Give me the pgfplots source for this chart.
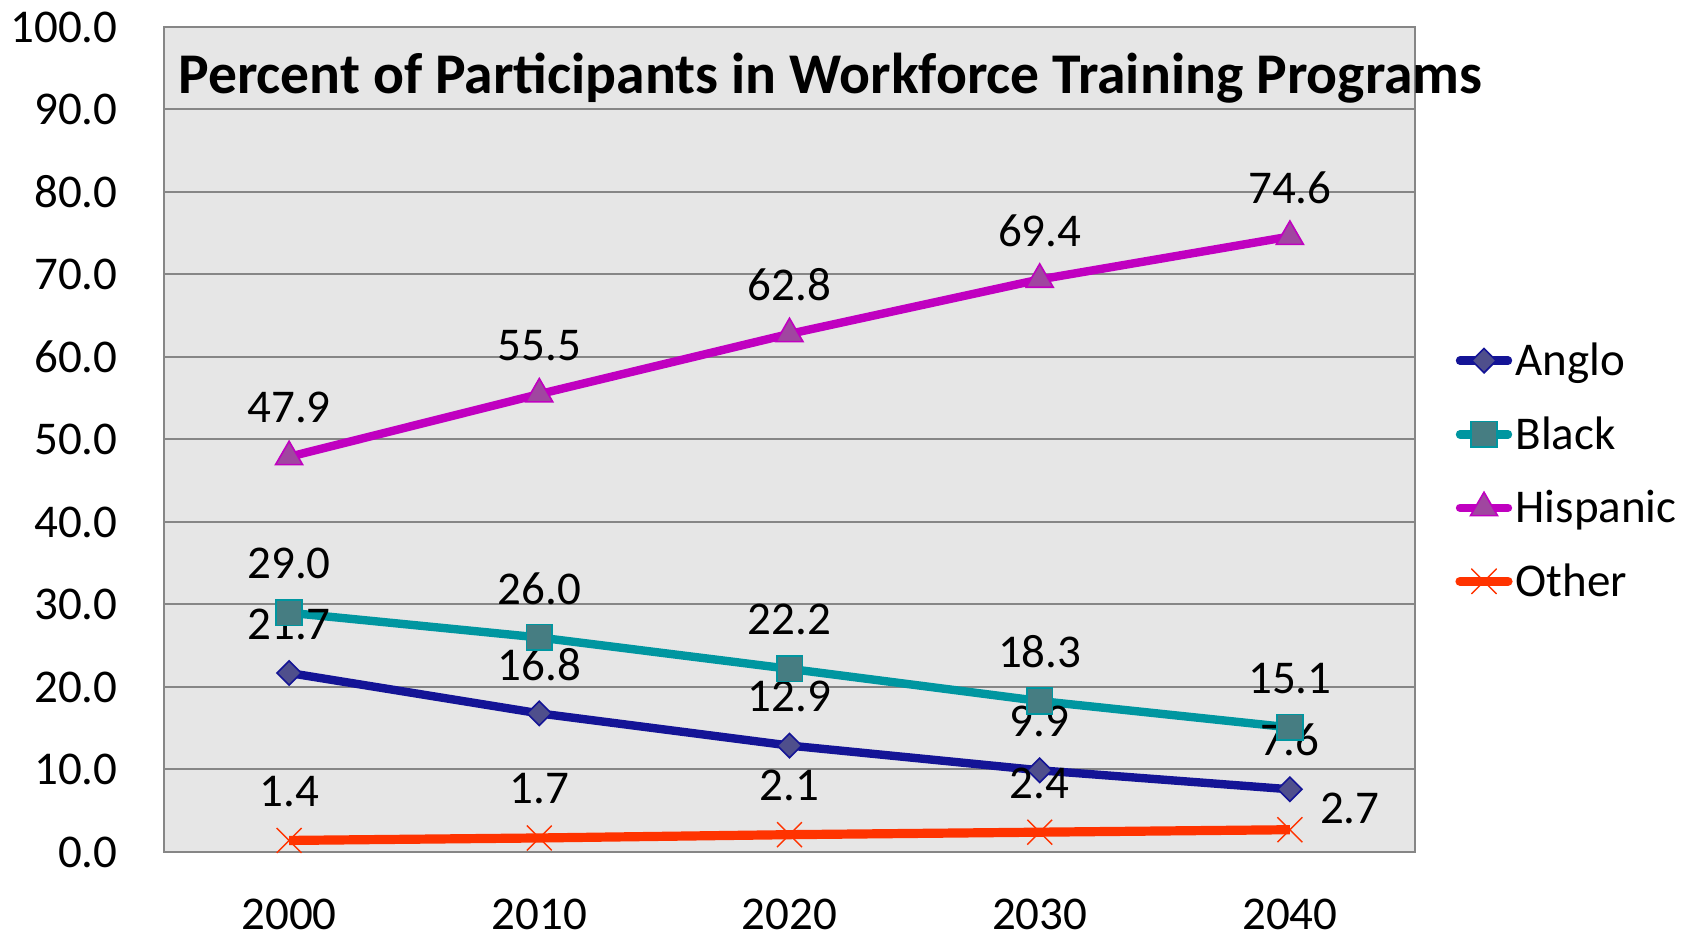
\documentclass[border=0pt]{standalone}
\usepackage{fontspec}
\setmainfont{Carlito}
\usepackage{pgfplots}
\pgfplotsset{compat=1.18}
\definecolor{bggray}{HTML}{E6E6E6}
\definecolor{gridgray}{HTML}{868686}
\definecolor{anglo}{HTML}{141496}
\definecolor{anglofill}{HTML}{4F4F8C}
\definecolor{blackc}{HTML}{0096A0}
\definecolor{blackfill}{HTML}{467D82}
\definecolor{hisp}{HTML}{C000C0}
\definecolor{hispfill}{HTML}{A046A0}
\definecolor{other}{HTML}{FF3300}
\newcommand{\bigf}{\fontsize{23.5}{28}\selectfont}
\begin{document}
\begin{tikzpicture}
\useasboundingbox (-82pt,-44pt) rectangle (766pt,426pt);
\begin{axis}[
  at={(0,0)}, anchor=south west,
  scale only axis, width=625.5pt, height=412.5pt,
  xmin=-0.5, xmax=4.5, ymin=0, ymax=100,
  xtick={0,1,2,3,4}, xticklabels={2000,2010,2020,2030,2040},
  ytick={0,10,...,100},
  major tick length=0pt,
  ymajorgrids, grid style={gridgray, line width=1pt},
  axis line style={gridgray, line width=1pt},
  axis background/.style={fill=bggray},
  font=\bigf,
  ticklabel style={font=\bigf},
  /pgf/number format/assume math mode=true,
  yticklabel style={inner sep=0pt, anchor=east, xshift=-23pt, /pgf/number format/.cd, fixed, fixed zerofill, precision=1},
  xticklabel style={inner sep=0pt, anchor=north, yshift=-23.5pt},
  title={Percent of Participants in Workforce Training Programs},
  title style={at={(rel axis cs:0,1)}, anchor=west, xshift=7pt, yshift=-31.5pt, font=\bfseries\fontsize{28.8}{32}\selectfont, inner sep=0pt},
  point meta=y,
  nodes near coords={\pgfmathprintnumber[fixed,fixed zerofill,precision=1,assume math mode=true]{\pgfplotspointmeta}},
  every node near coord/.append style={font=\bigf, text=black, anchor=center, inner sep=0pt, yshift=24.5pt},
  legend style={at={(rel axis cs:1,0.4618)}, anchor=west, xshift=20pt, draw=none, fill=none, inner sep=0pt, font=\bigf, row sep=19pt, column sep=1.5pt, nodes={inner sep=0pt}},
  legend cell align=left,
  legend image code/.code={\draw[mark repeat=2, mark phase=2, line cap=round, #1] plot coordinates {(2pt,0pt) (14pt,0pt) (26pt,0pt)};},
]
\addplot[anglo, line width=4.2pt, mark=square*, mark size=4.3pt, mark options={rotate=45, solid, fill=anglofill, draw=anglo, line width=0.8pt}]
  coordinates {(0,21.7) (1,16.8) (2,12.9) (3,9.9) (4,7.6)};
\addlegendentry{Anglo}
\addplot[blackc, line width=4.2pt, mark=square*, mark size=6.4pt, mark options={solid, fill=blackfill, draw=blackc, line width=0.8pt}]
  coordinates {(0,29.0) (1,26.0) (2,22.2) (3,18.3) (4,15.1)};
\addlegendentry{Black}
\addplot[hisp, line width=4.2pt, mark=triangle*, mark size=7.8pt, mark options={solid, fill=hispfill, draw=hisp, line width=0.8pt}]
  coordinates {(0,47.9) (1,55.5) (2,62.8) (3,69.4) (4,74.6)};
\addlegendentry{Hispanic}
\addplot[other, line width=4.6pt, mark=x, mark size=8.8pt, mark options={solid, draw=other, line width=0.7pt},
  visualization depends on={value \coordindex \as \ci},
  every node near coord/.append style={xshift={(\ci==4)*30pt}, yshift={(\ci==4)*(-14pt)}}]
  coordinates {(0,1.4) (1,1.7) (2,2.1) (3,2.4) (4,2.7)};
\addlegendentry{Other}
\end{axis}
\end{tikzpicture}
\end{document}
